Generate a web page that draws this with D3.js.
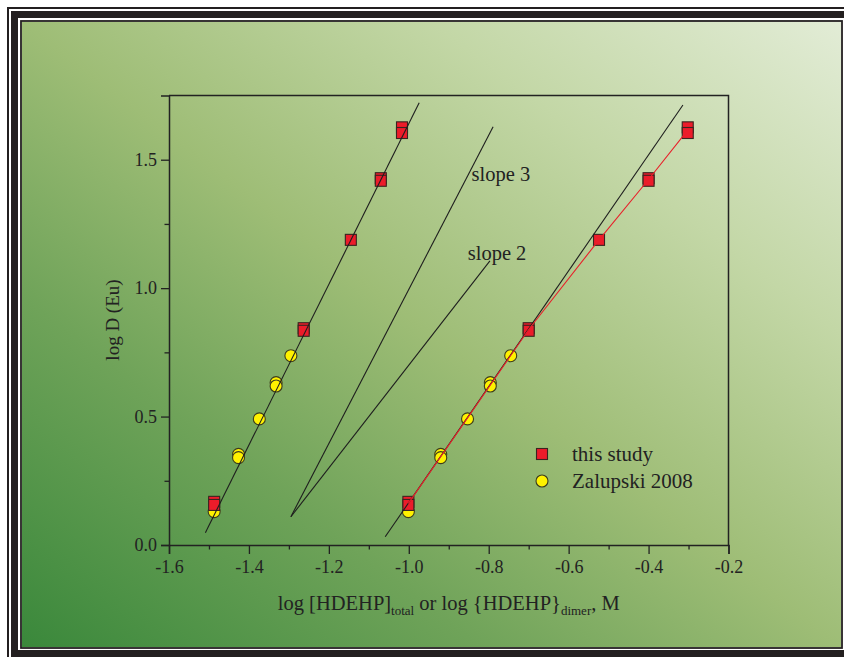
<!DOCTYPE html>
<html>
<head>
<meta charset="utf-8">
<script src="https://cdn.jsdelivr.net/npm/d3@7"></script>
<style>
  html, body { margin: 0; padding: 0; background: #fff; }
  svg { display: block; font-family: "Liberation Serif", "Times New Roman", serif; }
</style>
</head>
<body>
<svg id="chart" width="844" height="657"></svg>
<script>
// Eu distribution vs HDEHP concentration (total and dimer)
const thisStudyTotalX = [-1.487, -1.487, -1.263, -1.263, -1.145, -1.070, -1.070, -1.017, -1.017];
const thisStudyDimerX = [-1.001, -1.001, -0.700, -0.700, -0.524, -0.400, -0.400, -0.302, -0.302];
const thisStudyY      = [0.168, 0.156, 0.844, 0.834, 1.188, 1.428, 1.418, 1.626, 1.604];

const zalupskiTotalX = [-1.487, -1.426, -1.426, -1.374, -1.332, -1.332, -1.295];
const zalupskiDimerX = [-1.001, -0.920, -0.920, -0.853, -0.796, -0.796, -0.745];
const zalupskiY      = [0.130, 0.353, 0.340, 0.491, 0.632, 0.619, 0.737];

// straight reference / fit lines (end points)
const fitTotalX = [-1.509, -0.974], fitTotalY = [0.048, 1.722];
const fitDimerX = [-1.059, -0.314], fitDimerY = [0.032, 1.713];
const slope3X = [-1.295, -0.789], slope3Y = [0.110, 1.628];
const slope2X = [-1.295, -0.797], slope2Y = [0.110, 1.106];

const slopeLabels = ["slope 3", "slope 2"];
const slopeLabelX = [-0.843, -0.8525];
const slopeLabelY = [1.416, 1.110];

const xMajorTicks = [-1.6, -1.4, -1.2, -1.0, -0.8, -0.6, -0.4, -0.2];
const xTickLabels = ["-1.6", "-1.4", "-1.2", "-1.0", "-0.8", "-0.6", "-0.4", "-0.2"];
const xMinorTicks = [-1.5, -1.3, -1.1, -0.9, -0.7, -0.5, -0.3];
const yMajorTicks = [0.0, 0.5, 1.0, 1.5];
const yTickLabels = ["0.0", "0.5", "1.0", "1.5"];
const yMinorTicks = [0.25, 0.75, 1.25];

const legendLabels = ["this study", "Zalupski 2008"];

const svg = d3.select("#chart");

// ---- decorative frame ----
const defs = svg.append("defs");
const grad = defs.append("linearGradient").attr("id", "bg")
  .attr("x1", 0).attr("y1", 1).attr("x2", 1).attr("y2", 0);
[[0, "#3a883b"], [0.28, "#6fa359"], [0.5, "#9ebd76"], [0.75, "#c3d7a6"], [1, "#e2ecd6"]]
  .forEach(([o, c]) => grad.append("stop").attr("offset", o).attr("stop-color", c));

svg.append("rect").attr("x", 8).attr("y", 8).attr("width", 900).attr("height", 700)
  .attr("fill", "none").attr("stroke", "#231f20").attr("stroke-width", 2);
svg.append("rect").attr("x", 14.5).attr("y", 14.5).attr("width", 834).attr("height", 639)
  .attr("fill", "none").attr("stroke", "#231f20").attr("stroke-width", 7);
svg.append("rect").attr("x", 22).attr("y", 22).attr("width", 819).attr("height", 625)
  .attr("fill", "url(#bg)");
svg.append("rect").attr("x", 21).attr("y", 21).attr("width", 821).attr("height", 627)
  .attr("fill", "none").attr("stroke", "#231f20").attr("stroke-width", 1.8);

// ---- plot ----
const L = 169, R = 728.5, T = 95.5, B = 545;
const x = d3.scaleLinear().domain([-1.6, -0.2]).range([L, R]);
const y = d3.scaleLinear().domain([0, 1.75]).range([B, T]);

const ink = "#222";
const fontTick = 18;

// minor ticks
svg.append("g").attr("transform", `translate(0,${B})`)
  .call(d3.axisBottom(x).tickValues(xMinorTicks).tickSize(4.5).tickFormat(""))
  .call(g => g.select(".domain").remove());
svg.append("g").attr("transform", `translate(${L},0)`)
  .call(d3.axisLeft(y).tickValues(yMinorTicks).tickSize(4.5).tickFormat(""))
  .call(g => g.select(".domain").remove());

const xAxis = svg.append("g").attr("transform", `translate(0,${B})`)
  .call(d3.axisBottom(x).tickValues(xMajorTicks).tickSize(9).tickPadding(6)
    .tickFormat((d, i) => xTickLabels[i]));
const yAxis = svg.append("g").attr("transform", `translate(${L},0)`)
  .call(d3.axisLeft(y).tickValues(yMajorTicks).tickSize(8).tickPadding(4)
    .tickFormat((d, i) => yTickLabels[i]));

svg.selectAll(".tick line").attr("stroke", ink).attr("stroke-width", 1.3);
svg.selectAll(".domain").attr("stroke", ink).attr("stroke-width", 1.5);
svg.selectAll(".tick text").attr("fill", ink).attr("font-size", fontTick)
  .attr("font-family", "Liberation Serif");

// top and right frame of the plot box
svg.append("path").attr("d", `M${L},${T}H${R}V${B}`)
  .attr("fill", "none").attr("stroke", ink).attr("stroke-width", 1.5);

// ---- axis titles ----
svg.append("text").attr("transform", `translate(119,320) rotate(-90)`)
  .attr("text-anchor", "middle").attr("font-size", 19).attr("fill", ink)
  .text("log D (Eu)");

const xt = svg.append("text").attr("x", (L + R) / 2).attr("y", 610)
  .attr("text-anchor", "middle").attr("font-size", 20.5).attr("fill", ink);
xt.append("tspan").text("log [HDEHP]");
xt.append("tspan").attr("font-size", 13).attr("dy", 5).text("total");
xt.append("tspan").attr("dy", -5).text(" or log {HDEHP}");
xt.append("tspan").attr("font-size", 13).attr("dy", 5).text("dimer");
xt.append("tspan").attr("dy", -5).text(", M");

// ---- markers ----
const sq = 11, cr = 6;
const zal = zalupskiTotalX.map((v, i) => ({ x: v, y: zalupskiY[i] }))
  .concat(zalupskiDimerX.map((v, i) => ({ x: v, y: zalupskiY[i] })));
const ts = thisStudyTotalX.map((v, i) => ({ x: v, y: thisStudyY[i] }))
  .concat(thisStudyDimerX.map((v, i) => ({ x: v, y: thisStudyY[i] })));

svg.append("g").selectAll("circle").data(zal).join("circle")
  .attr("cx", d => x(d.x)).attr("cy", d => y(d.y)).attr("r", cr)
  .attr("fill", "#fff200").attr("stroke", "#3d3d1c").attr("stroke-width", 1.1);

svg.append("g").selectAll("rect").data(ts).join("rect")
  .attr("x", d => x(d.x) - sq / 2).attr("y", d => y(d.y) - sq / 2)
  .attr("width", sq).attr("height", sq)
  .attr("fill", "#ec1c2a").attr("stroke", "#3a2420").attr("stroke-width", 1.1);

// ---- lines ----
const line = d3.line().x(d => x(d[0])).y(d => y(d[1]));
const pairs = (xs, ys) => xs.map((v, i) => [v, ys[i]]);
[[fitTotalX, fitTotalY], [fitDimerX, fitDimerY], [slope3X, slope3Y], [slope2X, slope2Y]]
  .forEach(([xs, ys]) => svg.append("path").attr("d", line(pairs(xs, ys)))
    .attr("fill", "none").attr("stroke", "#1e1e1e").attr("stroke-width", 1.1));

// red connecting line through the mean of each "this study" dimer point
const means = d3.rollups(thisStudyDimerX.map((v, i) => [v, thisStudyY[i]]),
  v => d3.mean(v, d => d[1]), d => d[0]).sort((a, b) => a[0] - b[0]);
svg.append("path").attr("d", line(means))
  .attr("fill", "none").attr("stroke", "#e8202a").attr("stroke-width", 1.1);

// slope annotations
slopeLabels.forEach((t, i) => svg.append("text")
  .attr("x", x(slopeLabelX[i])).attr("y", y(slopeLabelY[i]))
  .attr("font-size", 20.5).attr("fill", ink).text(t));

// ---- legend ----
const lg = svg.append("g");
lg.append("rect").attr("x", 542 - 5.5).attr("y", 454 - 5.5).attr("width", 11).attr("height", 11)
  .attr("fill", "#ec1c2a").attr("stroke", "#3a2420").attr("stroke-width", 1.1);
lg.append("circle").attr("cx", 542).attr("cy", 481).attr("r", 6)
  .attr("fill", "#fff200").attr("stroke", "#3d3d1c").attr("stroke-width", 1.1);
legendLabels.forEach((t, i) => lg.append("text").attr("x", 572).attr("y", 461 + i * 27)
  .attr("font-size", 21).attr("fill", ink).text(t));
</script>
</body>
</html>
